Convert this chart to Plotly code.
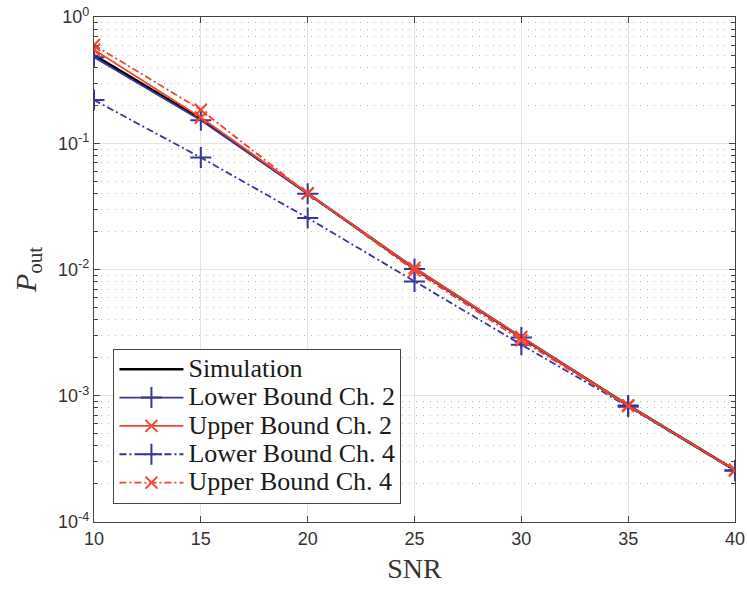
import plotly.graph_objects as go

snr = [10, 15, 20, 25, 30, 35, 40]
simulation = [0.50, 0.156, 0.0400, 0.0102, 0.00290, 0.00084, 0.000258]
lower_ch2 = [0.48, 0.152, 0.0398, 0.0101, 0.00289, 0.000838, 0.000257]
upper_ch2 = [0.55, 0.160, 0.0402, 0.0103, 0.00292, 0.000842, 0.000259]
lower_ch4 = [0.22, 0.077, 0.0256, 0.00805, 0.00254, 0.00082, 0.000255]
upper_ch4 = [0.60, 0.184, 0.0400, 0.0098, 0.00275, 0.00083, 0.000256]

series_names = ["Simulation", "Lower Bound Ch. 2", "Upper Bound Ch. 2",
                "Lower Bound Ch. 4", "Upper Bound Ch. 4"]

ytick_vals = [1e-4, 1e-3, 1e-2, 1e-1, 1]
ytick_text = ["10<sup>-4</sup>", "10<sup>-3</sup>", "10<sup>-2</sup>", "10<sup>-1</sup>", "10<sup>0</sup>"]
minor_vals = [k * 10.0 ** e for e in range(-4, 0) for k in range(2, 10)]

BLUE = "#3a3598"
RED = "#f2442c"
DASHDOT = "7px,3px,2px,3px"
SERIF = "Liberation Serif, DejaVu Serif, serif"


def lg(name):
    return "<span style='font-size:26px'>" + name + "</span>"


fig = go.Figure()
fig.add_trace(go.Scatter(x=snr, y=simulation, mode="lines", name=lg(series_names[0]),
                         line=dict(color="black", width=2.6)))
fig.add_trace(go.Scatter(x=snr, y=lower_ch2, mode="lines+markers", name=lg(series_names[1]),
                         line=dict(color=BLUE, width=1.8),
                         marker=dict(symbol="cross-thin", size=15, line=dict(color=BLUE, width=2))))
fig.add_trace(go.Scatter(x=snr, y=upper_ch2, mode="lines+markers", name=lg(series_names[2]),
                         line=dict(color=RED, width=1.8),
                         marker=dict(symbol="x-thin", size=12, line=dict(color=RED, width=2))))
fig.add_trace(go.Scatter(x=snr, y=lower_ch4, mode="lines+markers", name=lg(series_names[3]),
                         line=dict(color=BLUE, width=1.8, dash=DASHDOT),
                         marker=dict(symbol="cross-thin", size=15, line=dict(color=BLUE, width=2))))
fig.add_trace(go.Scatter(x=snr, y=upper_ch4, mode="lines+markers", name=lg(series_names[4]),
                         line=dict(color=RED, width=1.8, dash=DASHDOT),
                         marker=dict(symbol="x-thin", size=12, line=dict(color=RED, width=2))))

axis_col = "#444444"
fig.update_layout(
    width=747, height=589,
    margin=dict(l=94, r=12, t=17, b=67),
    paper_bgcolor="white", plot_bgcolor="white",
    font=dict(family="Liberation Sans, Arial", size=18, color="#333333"),
    legend=dict(x=0.03, y=0.036, xanchor="left", yanchor="bottom",
                bgcolor="white", bordercolor=axis_col, borderwidth=1.2,
                font=dict(family=SERIF, size=19.5, color="#1a1a1a"),
                tracegroupgap=0, itemwidth=64),
    xaxis=dict(range=[10, 40], tickvals=snr, ticks="inside", ticklen=6,
               tickcolor=axis_col, showline=True, linecolor=axis_col, linewidth=1.3,
               mirror="ticks", showgrid=True, gridcolor="#e4e4e4", gridwidth=1,
               zeroline=False, automargin=False,
               title=dict(text="SNR", font=dict(family=SERIF, size=28, color="#333333"),
                          standoff=10)),
    yaxis=dict(type="log", range=[-4, 0], tickvals=ytick_vals, ticktext=ytick_text,
               ticks="inside", ticklen=6, tickcolor=axis_col, showline=True,
               linecolor=axis_col, linewidth=1.3, mirror="ticks", automargin=False,
               showgrid=True, gridcolor="#e4e4e4", gridwidth=1, zeroline=False,
               minor=dict(tickvals=minor_vals, ticks="inside", ticklen=4, tickcolor=axis_col,
                          showgrid=True, gridcolor="#b8b8b8", griddash="1px,6px", gridwidth=1),
               title=dict(text="<i>P</i><sub>out</sub>", font=dict(family=SERIF, size=30, color="#333333"),
                          standoff=12)),
)

fig.write_html("out.html")
